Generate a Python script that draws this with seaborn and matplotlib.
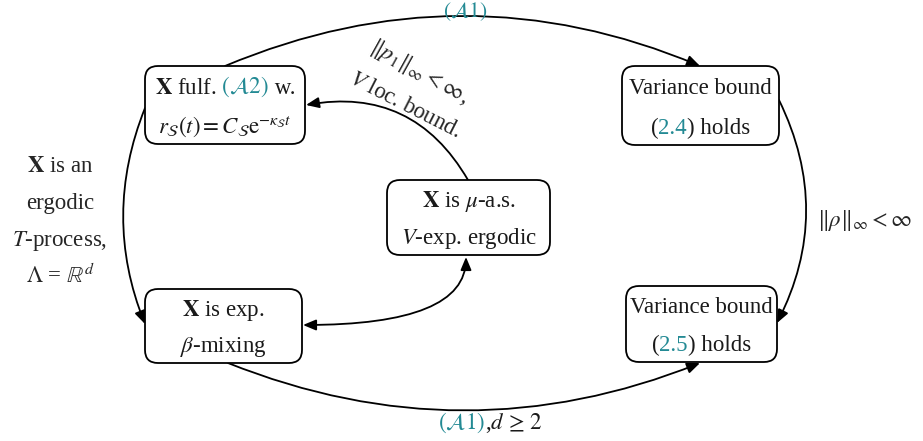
import matplotlib
matplotlib.use("Agg")
import matplotlib.pyplot as plt
import seaborn as sns
from matplotlib.patches import FancyBboxPatch, FancyArrowPatch

sns.set_theme(style="white")
plt.rcParams['font.family'] = ['Liberation Serif', 'DejaVu Serif']
plt.rcParams['mathtext.fontset'] = 'stix'

TEAL = '#238a94'

## node texts: each line is a list of (text, colour) pieces
node_names = ["A2", "var24", "vexp", "beta", "var25"]
node_lines = [
    [[(r"$\mathbf{X}$ fulf.", 'k'), (r"$\ (\mathcal{A}2)$", TEAL), (" w.", 'k')],
     [(r"$r_\mathcal{S}(t) = C_\mathcal{S}\mathrm{e}^{-\kappa_\mathcal{S}t}$", 'k')]],
    [[("Variance bound", 'k')],
     [("(", 'k'), ("2.4", TEAL), (") holds", 'k')]],
    [[(r"$\mathbf{X}$ is $\mu$-a.s.", 'k')],
     [(r"$V$-exp. ergodic", 'k')]],
    [[(r"$\mathbf{X}$ is exp.", 'k')],
     [(r"$\beta$-mixing", 'k')]],
    [[("Variance bound", 'k')],
     [("(", 'k'), ("2.5", TEAL), (") holds", 'k')]],
]

## layout (pixels): left, top, right, bottom
node_boxes = [(145, 66, 305, 144), (622, 66, 779, 145), (387, 180, 550, 255),
              (145, 289, 302, 363), (626, 286, 777, 362)]

## edge labels
left_label = [r"$\mathbf{X}$ is an", "ergodic", r"$T$-process,", r"$\Lambda$ = $\mathbb{R}^d$"]
right_label = r"$\Vert\rho\Vert_\infty < \infty$"
sloped_label = [r"$\Vert p_1\Vert_\infty < \infty$,", r"$V$ loc. bound."]
top_label = r"$(\mathcal{A}1)$"
bottom_label = [(r"$(\mathcal{A}1)$", TEAL), (r",$d\,\geq\,2$", 'k')]

FS = 16.5

fig = plt.figure(figsize=(9.23, 4.41), dpi=100)
ax = fig.add_axes([0, 0, 1, 1])
ax.set_xlim(0, 923)
ax.set_ylim(441, 0)
ax.axis('off')

line_groups = []


def rich_line(x, y, pieces, **kw):
    prev = None
    arts = []
    for txt, col in pieces:
        if prev is None:
            t = ax.text(x, y, txt, color=col, fontsize=FS, ha='left', va='baseline', **kw)
        else:
            t = ax.annotate(txt, xy=(1, 0), xycoords=prev, color=col, fontsize=FS,
                            ha='left', va='bottom', **kw)
        arts.append(t)
        prev = t
    line_groups.append((x, arts))


for box, lines in zip(node_boxes, node_lines):
    l, t, r, b = box
    ax.add_patch(FancyBboxPatch((l, t), r - l, b - t,
                                boxstyle="round,pad=0,rounding_size=13",
                                fc='white', ec='black', lw=1.3, zorder=2))
    cx = (l + r) / 2
    h = b - t
    rich_line(cx, t + 0.36 * h, lines[0], zorder=3)
    rich_line(cx, t + 0.855 * h, lines[1], zorder=3)


def edge(p, q, conn, style="-|>"):
    ax.add_patch(FancyArrowPatch(p, q, connectionstyle=conn,
                                 arrowstyle=style + ",head_length=0.6,head_width=0.25",
                                 mutation_scale=13, lw=1.3, color='black',
                                 shrinkA=0, shrinkB=0, zorder=1))


edge((225, 66), (700, 66), "arc3,rad=-0.21")
edge((468, 180), (306, 105), "arc3,rad=0.35")
edge((145, 108), (145, 324), "arc3,rad=0.2")
edge((303, 325), (466, 257), "angle3,angleA=0,angleB=90", style="<|-|>")
edge((779, 100), (777, 323), "arc3,rad=-0.25")
edge((228, 363), (700, 363), "arc3,rad=0.2")

# labels
for i, s in enumerate(left_label):
    ax.text(60, 172 + 37 * i, s, fontsize=FS, ha='center', va='baseline')
ax.text(865, 226, right_label, fontsize=FS, ha='center', va='baseline')
ax.text(465, 17, top_label, fontsize=FS - 1, ha='center', va='baseline', color=TEAL)
ax.text(419, 72, sloped_label[0], fontsize=FS, ha='center', va='center', rotation=-29)
ax.text(405, 105, sloped_label[1], fontsize=FS, ha='center', va='center', rotation=-27)
rich_line(490, 429, bottom_label)

# centre the multi-piece lines
fig.canvas.draw()
r = fig.canvas.get_renderer()
for x, arts in line_groups:
    x0 = arts[0].get_window_extent(r).x0
    x1 = arts[-1].get_window_extent(r).x1
    arts[0].set_x(x - (x1 - x0) / 2)

fig.savefig("out.png", dpi=100)
